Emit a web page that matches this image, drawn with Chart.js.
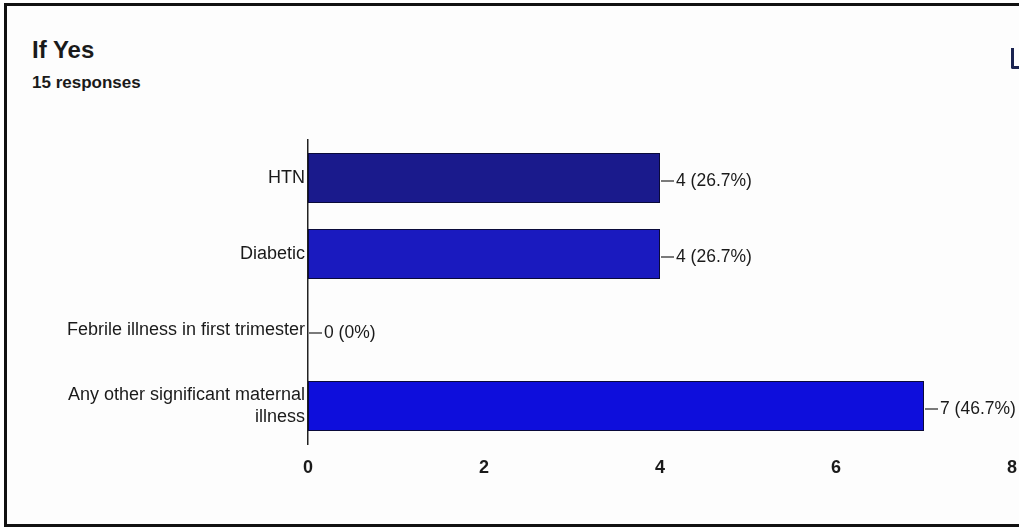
<!DOCTYPE html>
<html>
<head>
<meta charset="utf-8">
<script src="https://cdn.jsdelivr.net/npm/chart.js@4/dist/chart.umd.min.js"></script>
<style>
    html, body { margin: 0; padding: 0; background: #fff; overflow: hidden; }
    #frame {
        position: absolute; left: 4px; top: 3px; width: 1030px; height: 518px;
        border: 3px solid #111; border-right: none; background: #fdfdfd;
    }
    #title {
        position: absolute; left: 32px; top: 36px;
        font: bold 24px "Liberation Sans", Arial, sans-serif; color: #1a1a1a;
    }
    #subtitle {
        position: absolute; left: 32px; top: 73px;
        font: bold 17px "Liberation Sans", Arial, sans-serif; color: #1a1a1a;
    }
    #icon {
        position: absolute; left: 1011px; top: 48px; width: 10px; height: 18px;
        border-left: 3px solid #1a2350; border-bottom: 3px solid #1a2350; border-radius: 0 0 0 2px;
    }
    #wrap { position: absolute; left: 0; top: 0; width: 1019px; height: 528px; }
</style>
</head>
<body>
<div id="frame"></div>
<div id="title">If Yes</div>
<div id="subtitle">15 responses</div>
<div id="icon"></div>
<div id="wrap"><canvas id="myChart" width="1019" height="528"></canvas></div>
<script>
    const categories = ['HTN', 'Diabetic', 'Febrile illness in first trimester', ['Any other significant maternal', 'illness']];
    const counts = [4, 4, 0, 7];
    const percentLabels = ['26.7%', '26.7%', '0%', '46.7%'];
    const barColors = ['#1a1a8c', '#1a1abf', '#1212d8', '#0e0edc'];
    const xTicks = [0, 2, 4, 6, 8];

    // short connector line + "n (p%)" at the end of each bar
    const valueLabels = {
        id: 'valueLabels',
        afterDatasetsDraw(chart) {
            const ctx = chart.ctx;
            const meta = chart.getDatasetMeta(0);
            ctx.save();
            ctx.font = '17.5px "Liberation Sans", Arial, sans-serif';
            ctx.fillStyle = '#1a1a1a';
            ctx.strokeStyle = '#333';
            ctx.lineWidth = 1.3;
            ctx.textBaseline = 'middle';
            meta.data.forEach(function (bar, i) {
                const x = bar.x + 1;
                const y = bar.y + 3;
                ctx.beginPath();
                ctx.moveTo(x, y);
                ctx.lineTo(x + 13, y);
                ctx.stroke();
                ctx.fillText(counts[i] + ' (' + percentLabels[i] + ')', x + 15, y);
            });
            ctx.restore();
        }
    };

    const ctx = document.getElementById('myChart').getContext('2d');
    const chart = new Chart(ctx, {
        type: 'bar',
        data: {
            labels: categories,
            datasets: [{
                data: counts,
                backgroundColor: barColors,
                borderColor: '#0a0a3a',
                borderWidth: 1,
                borderSkipped: false,
                categoryPercentage: 1,
                barPercentage: 0.66
            }]
        },
        options: {
            indexAxis: 'y',
            responsive: false,
            animation: false,
            layout: { padding: { top: 140, left: 0, right: 7, bottom: 0 } },
            plugins: {
                legend: { display: false },
                tooltip: { enabled: false }
            },
            scales: {
                x: {
                    min: 0,
                    max: 8,
                    afterBuildTicks: function (axis) {
                        axis.ticks = xTicks.map(v => ({ value: v }));
                    },
                    grid: { display: false },
                    border: { display: false },
                    ticks: {
                        padding: 5,
                        color: '#1a1a1a',
                        font: { family: '"Liberation Sans Narrow", "Liberation Sans", Arial', size: 18, weight: 'bold' }
                    },
                    afterFit: function (axis) {
                        axis.height = 84;
                        axis.paddingLeft = 0;
                        axis.paddingRight = 0;
                    }
                },
                y: {
                    grid: { display: false, drawTicks: false },
                    border: { display: true, color: '#222', width: 1.5 },
                    ticks: {
                        padding: 3,
                        color: '#1a1a1a',
                        font: { family: '"Liberation Sans", Arial', size: 18 }
                    },
                    afterFit: function (axis) { axis.width = 308; }
                }
            }
        },
        plugins: [valueLabels]
    });
</script>
</body>
</html>
